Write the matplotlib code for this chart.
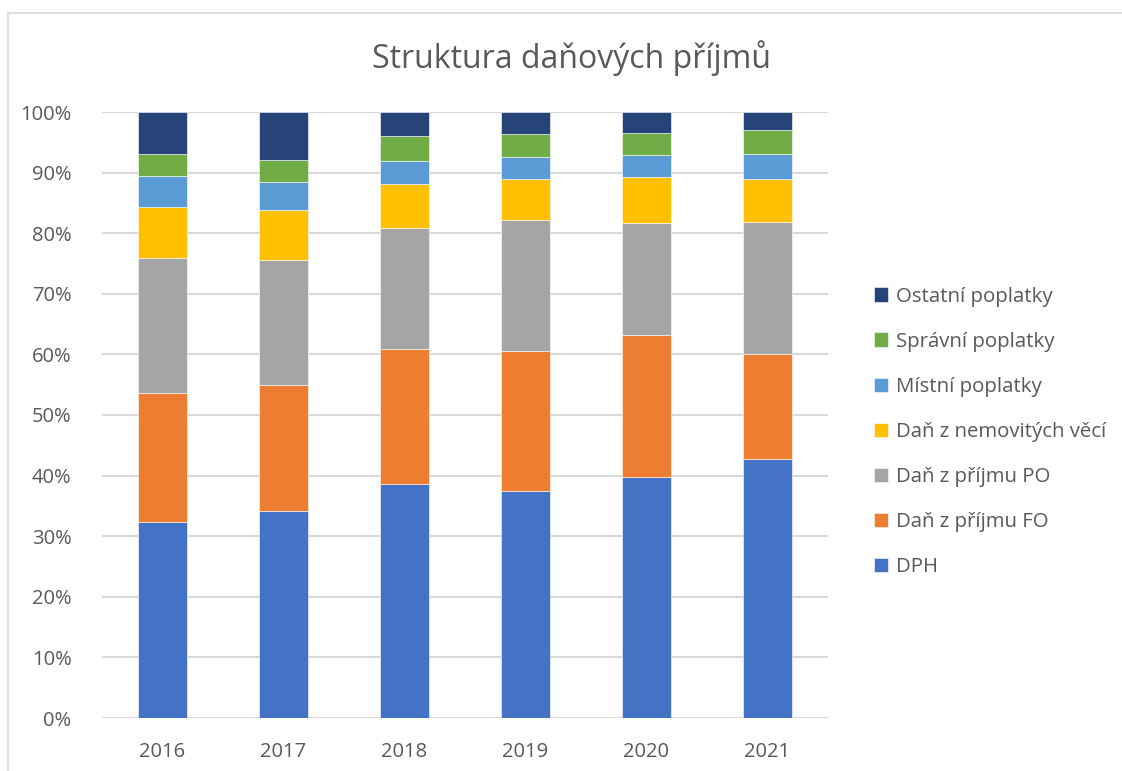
import matplotlib.pyplot as plt
import numpy as np
from matplotlib.patches import Rectangle
from matplotlib.ticker import PercentFormatter

plt.rcParams["font.family"] = ["Open Sans", "DejaVu Sans"]

years = ["2016", "2017", "2018", "2019", "2020", "2021"]

# shares in % of total tax revenue
dph = [32.3, 34.2, 38.6, 37.4, 39.7, 42.7]
dan_fo = [21.4, 20.8, 22.3, 23.2, 23.5, 17.5]
dan_po = [22.2, 20.6, 19.9, 21.5, 18.5, 21.8]
dan_nemovitosti = [8.5, 8.2, 7.4, 6.9, 7.6, 7.0]
mistni_poplatky = [5.0, 4.6, 3.7, 3.5, 3.6, 4.1]
spravni_poplatky = [3.6, 3.7, 4.2, 3.8, 3.6, 4.1]
ostatni_poplatky = [7.0, 7.9, 3.9, 3.7, 3.5, 2.9]

series = [
    ("DPH", dph, "#4472C4"),
    ("Daň z příjmu FO", dan_fo, "#ED7D31"),
    ("Daň z příjmu PO", dan_po, "#A5A5A5"),
    ("Daň z nemovitých věcí", dan_nemovitosti, "#FFC000"),
    ("Místní poplatky", mistni_poplatky, "#5B9BD5"),
    ("Správní poplatky", spravni_poplatky, "#70AD47"),
    ("Ostatní poplatky", ostatni_poplatky, "#264478"),
]

W, H = 1122, 771
fig = plt.figure(figsize=(W / 100, H / 100), dpi=100)
ax = fig.add_axes([102 / W, 1 - 718 / H, (828 - 102) / W, (718 - 112) / H])

# normalise to 100 % like a 100% stacked column chart
totals = np.sum([np.array(s[1]) for s in series], axis=0)
x = np.arange(len(years))
bottom = np.zeros(len(years))
handles = []
for name, vals, color in series:
    share = np.array(vals) / totals * 100
    h = ax.bar(x, share, width=0.41, bottom=bottom, color=color, label=name,
               edgecolor="white", linewidth=0.4, zorder=3)
    handles.append(h)
    bottom += share

ax.set_xlim(-0.5, len(years) - 0.5)
ax.set_ylim(0, 100)
ax.set_yticks(np.arange(0, 101, 10))
ax.yaxis.set_major_formatter(PercentFormatter(decimals=0))
ax.set_xticks(x)
ax.set_xticklabels(years)
ax.grid(axis="y", color="#D9D9D9", linewidth=1.5, zorder=0)
for sp in ax.spines.values():
    sp.set_visible(False)
ax.tick_params(length=0, labelsize=14.5, colors="#595959")
ax.tick_params(axis="x", pad=17)
ax.tick_params(axis="y", pad=22)

fig.text(571 / W, 1 - 58 / H, "Struktura daňových příjmů", ha="center", va="center",
         fontsize=23, color="#595959")

leg = fig.legend(handles[::-1], [s[0] for s in series][::-1],
                 loc="center left", bbox_to_anchor=(866 / W, 1 - 432 / H),
                 frameon=False, fontsize=14.7, labelcolor="#595959",
                 handlelength=0.7, handleheight=0.7, handletextpad=0.35,
                 labelspacing=1.23, borderaxespad=0)

# chart area border (Excel style)
fig.patches.append(Rectangle((8 / W, -0.1), 1.2, 1 - 13 / H + 0.1,
                             transform=fig.transFigure, fill=False,
                             edgecolor="#D9D9D9", linewidth=1.2))

fig.savefig("out.png", dpi=100)
